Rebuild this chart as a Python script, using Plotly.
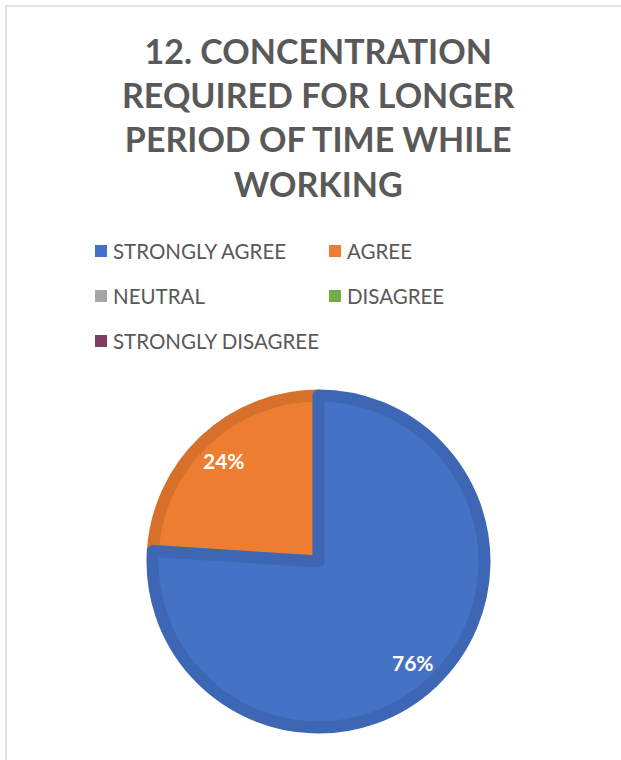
import math
import plotly.graph_objects as go

# Survey responses for item 12
categories = ["STRONGLY AGREE", "AGREE", "NEUTRAL", "DISAGREE", "STRONGLY DISAGREE"]
shares = [76, 24, 0, 0, 0]
fill_colors = ["#4472C4", "#ED7D31", "#A5A5A5", "#70AD47", "#7E3F62"]
edge_colors = ["#3D66B5", "#D6702B", "#959595", "#64A03E", "#723859"]

title_text = "12. CONCENTRATION<br>REQUIRED FOR LONGER<br>PERIOD OF TIME WHILE<br>WORKING"

W, H = 621, 760
text_gray = "#595959"
font_family = "Lato, 'Open Sans', sans-serif"

# pie geometry (pixels)
cx_px, cy_px = 318.5, 561.5
edge_w = 12
r_px = 172 - edge_w / 2

# Slices are fed in reverse order and laid out counter-clockwise, so the
# first category still starts at 12 o'clock going clockwise, but its edge
# is painted last (on top of the shared borders).
order = list(range(len(categories)))[::-1]
fig = go.Figure()
fig.add_trace(go.Pie(
    labels=[categories[i] for i in order],
    values=[shares[i] for i in order],
    sort=False,
    direction="counterclockwise",
    rotation=0,
    marker=dict(
        colors=[fill_colors[i] for i in order],
        line=dict(color=[edge_colors[i] for i in order],
                  width=[edge_w if shares[i] > 0 else 0 for i in order]),
    ),
    textinfo="none",
    hoverinfo="label+percent",
    showlegend=False,
    domain=dict(x=[(cx_px - r_px) / W, (cx_px + r_px) / W],
                y=[(H - cy_px - r_px) / H, (H - cy_px + r_px) / H]),
))

annotations = []

# chart title
annotations.append(dict(
    text=title_text, xref="paper", yref="paper",
    x=318 / W, y=1 - 117 / H, xanchor="center", yanchor="middle",
    showarrow=False, align="center",
    font=dict(family=font_family, size=34, color=text_gray, weight="bold"),
))

# percentage labels on the slices, placed along each slice's bisector
total = sum(shares)
start = 0.0
label_dist = 138
for v in shares:
    if v <= 0:
        continue
    mid = math.radians((start + v / 2) / total * 360)
    lx = cx_px + label_dist * math.sin(mid)
    ly = cy_px - label_dist * math.cos(mid)
    annotations.append(dict(
        text=f"{round(v / total * 100)}%", xref="paper", yref="paper",
        x=lx / W, y=1 - ly / H, xanchor="center", yanchor="middle",
        showarrow=False,
        font=dict(family=font_family, size=21, color="white", weight="bold"),
    ))
    start += v

# legend: two columns of colour swatch + label
shapes = []
col_text_x = [111, 345]
row_y = [251, 296, 341]
sw = 12
for i, name in enumerate(categories):
    col, row = i % 2, i // 2
    tx, ty = col_text_x[col], row_y[row]
    shapes.append(dict(
        type="rect", xref="paper", yref="paper",
        x0=(tx - 16) / W, x1=(tx - 16 + sw) / W,
        y0=1 - (ty + sw / 2) / H, y1=1 - (ty - sw / 2) / H,
        fillcolor=fill_colors[i], line=dict(width=0),
    ))
    annotations.append(dict(
        text=name, xref="paper", yref="paper",
        x=tx / W, y=1 - ty / H, xanchor="left", yanchor="middle",
        showarrow=False,
        font=dict(family=font_family, size=20.5, color=text_gray),
    ))

# light frame along the top and left edges
shapes += [
    dict(type="line", xref="paper", yref="paper",
         x0=6 / W, x1=1, y0=1 - 6 / H, y1=1 - 6 / H,
         line=dict(color="#D9D9D9", width=1.5)),
    dict(type="line", xref="paper", yref="paper",
         x0=6 / W, x1=6 / W, y0=0, y1=1 - 6 / H,
         line=dict(color="#D9D9D9", width=1.5)),
]

fig.update_layout(
    width=W,
    height=H,
    margin=dict(l=0, r=0, t=0, b=0),
    paper_bgcolor="white",
    plot_bgcolor="white",
    font=dict(family=font_family, color=text_gray),
    annotations=annotations,
    shapes=shapes,
)

fig.write_html("out.html")
